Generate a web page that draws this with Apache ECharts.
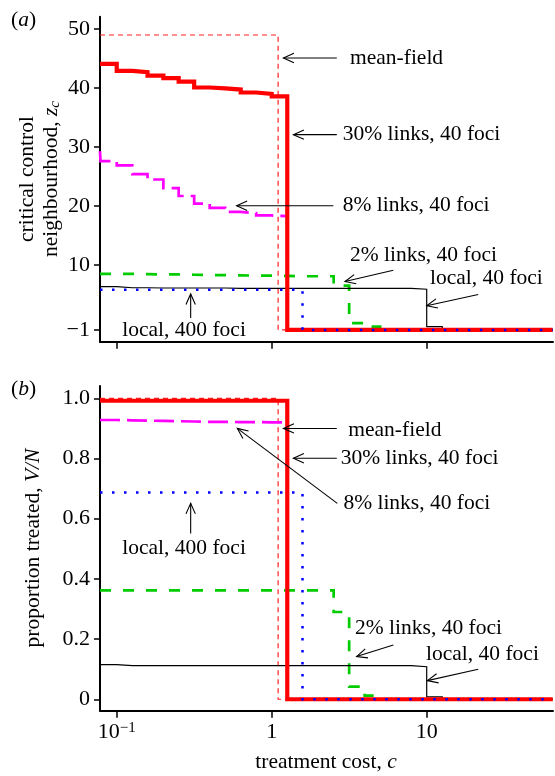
<!DOCTYPE html>
<html>
<head>
<meta charset="utf-8">
<script src="https://cdn.jsdelivr.net/npm/echarts@6/dist/echarts.min.js"></script>
<style>
  html, body { margin: 0; padding: 0; background: #fff; }
  #chart { width: 555px; height: 776px; }
</style>
</head>
<body>
<div id="chart"></div>
<script>
// Treatment cost grid (log-spaced) shared by the simulated curves
const cost = [0.078, 0.1, 0.126, 0.158, 0.2, 0.251, 0.316, 0.398, 0.501, 0.631,
              0.794, 1, 1.26, 1.58, 2, 2.51, 3.16, 3.98, 5.01, 6.31,
              7.94, 10, 12.6, 15.8, 20, 25.1, 31.6, 39.8, 50.1, 65];

// (a) critical control neighbourhood z_c
const zcLinks30 = [44.1, 42.9, 42.7, 42.1, 41.7, 41.1, 40.1, 39.95, 39.75, 39.25,
                   39.0, 38.6, -1, -1, -1, -1, -1, -1, -1, -1,
                   -1, -1, -1, -1, -1, -1, -1, -1, -1, -1];
const zcLinks8Lead = [[0.078, 29.3]];
const zcLinks8 = [27.6, 26.9, 25.4, 24.5, 23.05, 21.7, 20.4, 19.7, 19.0, 18.8,
                  18.4, 18.3, -1, -1, -1, -1, -1, -1, -1, -1,
                  -1, -1, -1, -1, -1, -1, -1, -1, -1, -1];
const zcLinks2 = [8.5, 8.5, 8.45, 8.4, 8.4, 8.35, 8.3, 8.3, 8.25, 8.2,
                  8.2, 8.15, 8.1, 8.1, 8.1, 6.5, 0.15, -0.45, -1, -1,
                  -1, -1, -1, -1, -1, -1, -1, -1, -1, -1];
const zcLocal40 = [6.35, 6.15, 6.15, 6.1, 6.1, 6.1, 6.1, 6.1, 6.05, 6.05,
                   6.05, 6.05, 6.05, 6.05, 6.05, 6.05, 6.05, 6.05, 6.05, 6.05,
                   5.9, -0.45, -1, -1, -1, -1, -1, -1, -1, -1];
const zcLocal400 = [5.8, 5.8, 5.8, 5.8, 5.8, 5.8, 5.8, 5.8, 5.8, 5.8,
                    5.8, 5.8, 5.8, -1, -1, -1, -1, -1, -1, -1,
                    -1, -1, -1, -1, -1, -1, -1, -1, -1, -1];

// (b) proportion treated V/N
const vnLinks30 = [0.992, 0.992, 0.992, 0.992, 0.992, 0.992, 0.992, 0.992, 0.992, 0.992,
                   0.992, 0.992, 0, 0, 0, 0, 0, 0, 0, 0,
                   0, 0, 0, 0, 0, 0, 0, 0, 0, 0];
const vnLinks8 = [0.928, 0.927, 0.926, 0.925, 0.924, 0.923, 0.922, 0.922, 0.921, 0.921,
                  0.920, 0.920, 0, 0, 0, 0, 0, 0, 0, 0,
                  0, 0, 0, 0, 0, 0, 0, 0, 0, 0];
const vnLinks2 = [0.362, 0.362, 0.362, 0.362, 0.362, 0.362, 0.362, 0.362, 0.362, 0.362,
                  0.362, 0.362, 0.362, 0.362, 0.362, 0.29, 0.042, 0.012, 0, 0,
                  0, 0, 0, 0, 0, 0, 0, 0, 0, 0];
const vnLocal40 = [0.115, 0.112, 0.112, 0.112, 0.112, 0.112, 0.112, 0.112, 0.112, 0.112,
                   0.112, 0.112, 0.112, 0.112, 0.112, 0.112, 0.112, 0.112, 0.112, 0.112,
                   0.108, 0.008, 0, 0, 0, 0, 0, 0, 0, 0];
const vnLocal400 = [0.687, 0.687, 0.687, 0.687, 0.687, 0.687, 0.687, 0.687, 0.687, 0.687,
                    0.687, 0.687, 0.687, 0, 0, 0, 0, 0, 0, 0,
                    0, 0, 0, 0, 0, 0, 0, 0, 0, 0];

// Mean-field threshold curve
const meanFieldCost = [0.078, 1.1, 65];
const meanFieldZc = [49, -1, -1];
const meanFieldVn = [1.0, 0, 0];

// Axes
const xMin = 0.078, xMax = 65.3;
const xTickValues = [0.1, 1, 10];
const xTickLabels = ['10^−1', '1', '10'];
const zcTickValues = [-1, 10, 20, 30, 40, 50];
const zcTickLabels = ['−1', '10', '20', '30', '40', '50'];
const vnTickValues = [0, 0.2, 0.4, 0.6, 0.8, 1.0];
const vnTickLabels = ['0', '0.2', '0.4', '0.6', '0.8', '1.0'];

// Annotations: [text, c, value, align] and arrows [c0, v0, c1 (tip), v1 (tip)]
const notesA = [
  ['mean-field', 3.2, 45.1, 'left'],
  ['30% links, 40 foci', 2.87, 32.1, 'left'],
  ['8% links, 40 foci', 2.87, 20.05, 'left'],
  ['2% links, 40 foci', 3.2, 11.6, 'left'],
  ['local, 40 foci', 10.5, 7.7, 'left'],
  ['local, 400 foci', 0.272, -1, 'center']
];
const arrowsA = [
  [2.63, 45.1, 1.19, 45.1],
  [2.63, 32.1, 1.38, 32.1],
  [2.5, 20.05, 0.594, 20.05],
  [6.09, 9.1, 2.97, 7.2],
  [21.5, 5.0, 10, 3.1],
  [0.30, 1.0, 0.30, 5.1]
];
const notesB = [
  ['mean-field', 3.12, 0.895, 'left'],
  ['30% links, 40 foci', 2.79, 0.801, 'left'],
  ['8% links, 40 foci', 2.9, 0.651, 'left'],
  ['local, 400 foci', 0.272, 0.502, 'center'],
  ['2% links, 40 foci', 3.45, 0.236, 'left'],
  ['local, 40 foci', 9.9, 0.150, 'left']
];
const arrowsB = [
  [2.63, 0.900, 1.19, 0.900],
  [2.63, 0.801, 1.38, 0.801],
  [2.65, 0.651, 0.6, 0.900],
  [0.30, 0.551, 0.30, 0.651],
  [6.09, 0.180, 3.53, 0.142],
  [21.5, 0.100, 10.1, 0.062]
];

const FONT = 'Liberation Serif';
const FS = 21.5;
const TICK_FS = 22;

const chart = echarts.init(document.getElementById('chart'));

function pairs(xs, ys) { return xs.map((x, i) => [x, ys[i]]); }

const tickRich = {
  n: { fontFamily: FONT, fontSize: TICK_FS, color: '#000', lineHeight: 24 },
  sup: { fontFamily: FONT, fontSize: 15, color: '#000', verticalAlign: 'top', lineHeight: 15 }
};

function xAxisFor(gi, withLabels) {
  return {
    type: 'log', logBase: 10, gridIndex: gi, min: xMin, max: xMax,
    axisLine: { show: true, onZero: false, lineStyle: { color: '#000', width: 2 } },
    axisTick: { show: true, length: 7, customValues: xTickValues,
                lineStyle: { color: '#000', width: 1.5 } },
    axisLabel: {
      show: withLabels, customValues: xTickValues, margin: 10,
      fontFamily: FONT, fontSize: TICK_FS, color: '#000',
      formatter: function (v) {
        let i = 0, best = Infinity;
        xTickValues.forEach((t, k) => {
          const d = Math.abs(Math.log10(t) - Math.log10(v));
          if (d < best) { best = d; i = k; }
        });
        const parts = xTickLabels[i].split('^');
        return '{n|' + parts[0] + '}' + (parts[1] ? '{sup|' + parts[1] + '}' : '');
      },
      rich: tickRich
    },
    splitLine: { show: false }, minorTick: { show: false }
  };
}

function yAxisFor(gi, min, max, values, labels) {
  return {
    type: 'value', gridIndex: gi, min: min, max: max,
    axisLine: { show: true, onZero: false, lineStyle: { color: '#000', width: 2 } },
    axisTick: { show: true, length: 6, customValues: values,
                lineStyle: { color: '#000', width: 1.5 } },
    axisLabel: {
      customValues: values, margin: 10,
      fontFamily: FONT, fontSize: TICK_FS, color: '#000',
      formatter: function (v) {
        let i = 0, best = Infinity;
        values.forEach((t, k) => { const d = Math.abs(t - v); if (d < best) { best = d; i = k; } });
        return '{n|' + labels[i] + '}';
      },
      rich: tickRich
    },
    splitLine: { show: false }
  };
}

function stepLine(gi, data, color, width, dash) {
  return {
    type: 'line', xAxisIndex: gi, yAxisIndex: gi, step: 'end', symbol: 'none',
    data: data, silent: true, animation: false,
    lineStyle: { color: color, width: width, type: dash || 'solid', cap: 'butt', join: 'miter' }
  };
}

const styles = {
  meanField: ['#ff2020', 1.2, [5, 4]],
  links8: ['#ff00ff', 2.7, [20, 7]],
  links2: ['#00cc00', 2.7, [11, 12]],
  local40: ['#000000', 1.2, 'solid'],
  links30: ['#ff0000', 4.2, 'solid'],
  local400: ['#0000ff', 2.5, [2.5, 9.5]]
};

function panelSeries(gi, mf, l8, l2, loc40, l30, loc400) {
  return [
    stepLine(gi, mf, ...styles.meanField),
    stepLine(gi, l8, ...styles.links8),
    stepLine(gi, l2, ...styles.links2),
    stepLine(gi, loc40, ...styles.local40),
    stepLine(gi, l30, ...styles.links30),
    stepLine(gi, loc400, ...styles.local400)
  ];
}

const option = {
  animation: false,
  backgroundColor: '#fff',
  textStyle: { fontFamily: FONT },
  grid: [
    { left: 100, top: 16.7, width: 453, height: 325, outerBoundsMode: 'none' },
    { left: 100, top: 386, width: 453, height: 324.7, outerBoundsMode: 'none' }
  ],
  xAxis: [xAxisFor(0, false), xAxisFor(1, true)],
  yAxis: [
    yAxisFor(0, -3, 52.1, zcTickValues, zcTickLabels),
    yAxisFor(1, -0.038, 1.041, vnTickValues, vnTickLabels)
  ],
  series: [
    ...panelSeries(0,
      pairs(meanFieldCost, meanFieldZc),
      zcLinks8Lead.concat(pairs([0.0786].concat(cost.slice(1)), zcLinks8)),
      pairs(cost, zcLinks2), pairs(cost, zcLocal40), pairs(cost, zcLinks30), pairs(cost, zcLocal400)),
    ...panelSeries(1,
      pairs(meanFieldCost, meanFieldVn),
      pairs(cost, vnLinks8), pairs(cost, vnLinks2), pairs(cost, vnLocal40),
      pairs(cost, vnLinks30), pairs(cost, vnLocal400))
  ]
};
chart.setOption(option);

// Labels, arrows and axis titles placed from data coordinates
const textBase = { fontFamily: FONT, fontSize: FS, fill: '#000' };
const richBase = {
  t: { fontFamily: FONT, fontSize: FS, fill: '#000', lineHeight: 24 },
  i: { fontFamily: FONT, fontSize: FS, fontStyle: 'italic', fill: '#000', lineHeight: 24 },
  s: { fontFamily: FONT, fontSize: 15, fontStyle: 'italic', fill: '#000', verticalAlign: 'bottom', lineHeight: 20 }
};

function noteGraphics(gi, notes) {
  return notes.map(n => {
    const p = chart.convertToPixel({ gridIndex: gi }, [n[1], n[2]]);
    return { type: 'text', x: p[0], y: p[1], z: 10,
             style: Object.assign({ text: n[0], align: n[3], verticalAlign: 'middle' }, textBase) };
  });
}

function arrowGraphics(gi, arrows) {
  const out = [];
  arrows.forEach(a => {
    const p0 = chart.convertToPixel({ gridIndex: gi }, [a[0], a[1]]);
    const p1 = chart.convertToPixel({ gridIndex: gi }, [a[2], a[3]]);
    const ang = Math.atan2(p1[1] - p0[1], p1[0] - p0[0]);
    const L = 11.5, spread = 0.42;
    const w1 = [p1[0] - L * Math.cos(ang - spread), p1[1] - L * Math.sin(ang - spread)];
    const w2 = [p1[0] - L * Math.cos(ang + spread), p1[1] - L * Math.sin(ang + spread)];
    const st = { stroke: '#000', lineWidth: 1.1, fill: null };
    out.push({ type: 'polyline', z: 10, shape: { points: [p0, p1] }, style: st });
    out.push({ type: 'polyline', z: 10, shape: { points: [w1, p1, w2] }, style: st });
  });
  return out;
}

const titles = [
  { type: 'text', x: 39, y: 179, rotation: Math.PI / 2, z: 10,
    style: { text: '{t|critical control}\n{t|neighbourhood, }{i|z}{s|c}', rich: richBase,
             align: 'center', verticalAlign: 'middle' } },
  { type: 'text', x: 33, y: 548, rotation: Math.PI / 2, z: 10,
    style: { text: '{t|proportion treated, }{i|V/N}', rich: richBase,
             align: 'center', verticalAlign: 'middle' } },
  { type: 'text', x: 326, y: 762, z: 10,
    style: { text: '{t|treatment cost, }{i|c}', rich: richBase,
             align: 'center', verticalAlign: 'middle' } },
  { type: 'text', x: 11, y: 20, z: 10,
    style: { text: '{t|(}{i|a}{t|)}', rich: richBase, align: 'left', verticalAlign: 'middle' } },
  { type: 'text', x: 11, y: 389, z: 10,
    style: { text: '{t|(}{i|b}{t|)}', rich: richBase, align: 'left', verticalAlign: 'middle' } }
];

chart.setOption({
  graphic: {
    elements: [].concat(
      noteGraphics(0, notesA), arrowGraphics(0, arrowsA),
      noteGraphics(1, notesB), arrowGraphics(1, arrowsB),
      titles)
  }
});
</script>
</body>
</html>
